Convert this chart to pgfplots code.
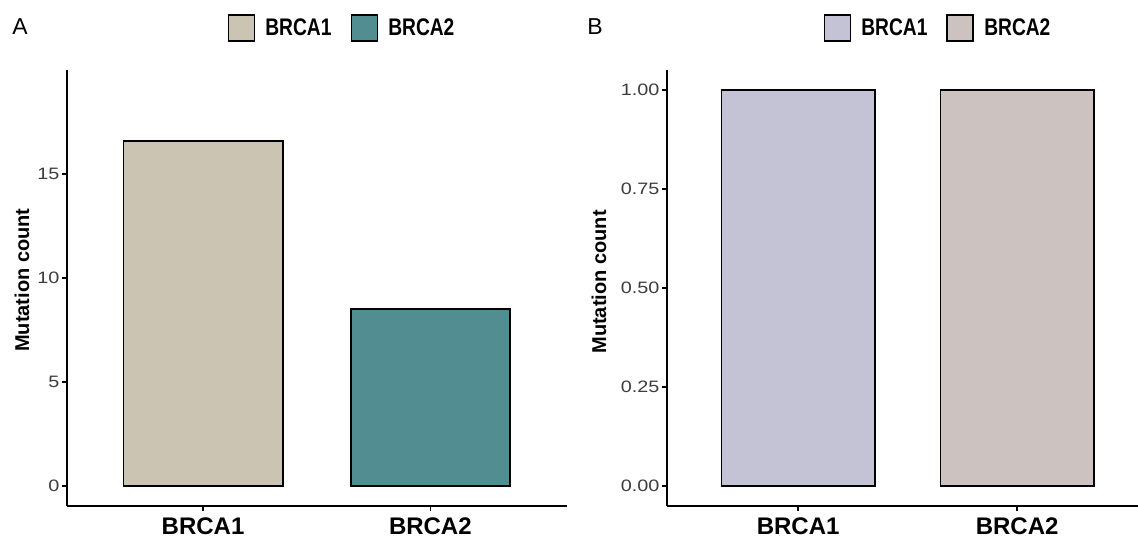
\documentclass[border=0pt]{standalone}
\usepackage{fontspec}
\setmainfont{Liberation Sans}
\newfontfamily\legfont[FakeStretch=0.8]{Liberation Sans}
\newfontfamily\tickfont[FakeStretch=1.2]{Liberation Sans}
\usepackage{pgfplots}
\pgfplotsset{compat=1.18}
\definecolor{aone}{RGB}{203,196,178}
\definecolor{atwo}{RGB}{82,141,145}
\definecolor{bone}{RGB}{196,195,214}
\definecolor{btwo}{RGB}{204,195,193}
\definecolor{tickgray}{RGB}{60,60,60}
\pgfplotsset{
 panel/.style={
  scale only axis, anchor=south west,
  axis lines*=left, axis line style={-, line width=1.8bp, black},
  tick align=outside, major tick length=4.5bp,
  every tick/.style={black, line width=1.6bp},
  xtick pos=left, ytick pos=left,
  ybar, bar width=0.7,
  xtick={0,1}, xticklabels={BRCA1,BRCA2}, xmin=-0.6,
  xticklabel style={font=\fontsize{24bp}{28bp}\selectfont\bfseries, text=black, inner sep=2bp, yshift=-5bp},
  yticklabel style={font=\tickfont\fontsize{16.5bp}{20bp}\selectfont, text=tickgray, inner sep=2.5bp},
  /pgf/number format/assume math mode=true,
  ylabel={Mutation count},
  ylabel style={font=\fontsize{20bp}{24bp}\selectfont\bfseries, anchor=center},
  legend columns=2,
  legend style={draw=none, fill=none, font=\legfont\fontsize{24bp}{27bp}\selectfont\bfseries, anchor=center,
    /tikz/every even column/.append style={column sep=17bp}},
  legend image code/.code={\draw[#1, line width=1.8bp] (0bp,-13bp) rectangle (26bp,13bp); \path (34bp,0bp);},
  clip=false,
 }
}
\begin{document}
\begin{tikzpicture}
\useasboundingbox (0,0) rectangle (1138bp,538bp);
\begin{axis}[panel, at={(66.7bp,32bp)}, width=500bp, height=436bp,
  xmax=1.6, ymin=-0.96, ymax=20, ytick={0,5,10,15},
  ylabel style={at={(axis description cs:-0.0894,0.518)}},
  legend style={at={(axis description cs:0.5506,1.096)}}]
\addplot[fill=aone, draw=black, line width=1.8bp, bar shift=0pt] coordinates {(0,16.57)};
\addplot[fill=atwo, draw=black, line width=1.8bp, bar shift=0pt] coordinates {(1,8.52)};
\legend{BRCA1,BRCA2}
\node[font=\fontsize{23bp}{26bp}\selectfont, anchor=center] at (axis description cs:-0.0934,1.0998) {A};
\end{axis}
\begin{axis}[panel, at={(666.7bp,32bp)}, width=470.9bp, height=436bp,
  xmax=1.55, ymin=-0.05, ymax=1.05, ytick={0,0.25,0.5,0.75,1},
  yticklabel style={/pgf/number format/.cd, fixed, fixed zerofill, precision=2},
  ylabel style={at={(axis description cs:-0.1438,0.514)}},
  legend style={at={(axis description cs:0.5761,1.096)}}]
\addplot[fill=bone, draw=black, line width=1.8bp, bar shift=0pt] coordinates {(0,1)};
\addplot[fill=btwo, draw=black, line width=1.8bp, bar shift=0pt] coordinates {(1,1)};
\legend{BRCA1,BRCA2}
\node[font=\fontsize{23bp}{26bp}\selectfont, anchor=center] at (axis description cs:-0.1523,1.0998) {B};
\end{axis}
\end{tikzpicture}
\end{document}
